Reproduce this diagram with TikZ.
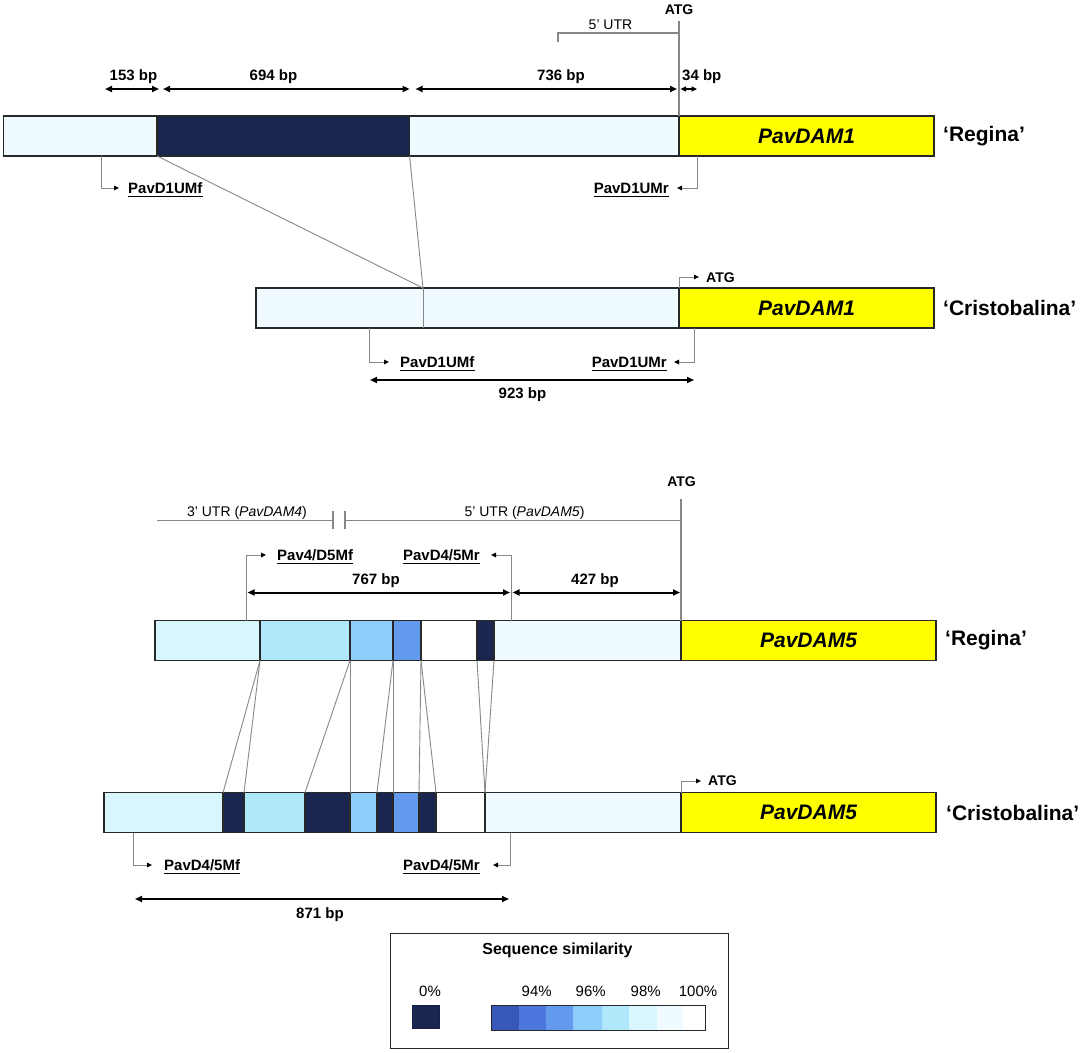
\documentclass[tikz,border=0pt]{standalone}
\usepackage{fontspec}
\setmainfont{Liberation Sans}
\usetikzlibrary{arrows.meta,calc}
\definecolor{navy}{RGB}{26,37,80}
\definecolor{cA}{RGB}{56,88,184}
\definecolor{cB}{RGB}{76,120,222}
\definecolor{cC}{RGB}{100,154,238}
\definecolor{cD}{RGB}{142,204,250}
\definecolor{cE}{RGB}{176,232,251}
\definecolor{cF}{RGB}{216,247,253}
\definecolor{cG}{RGB}{240,251,255}
\definecolor{gene}{RGB}{255,255,0}
\definecolor{bord}{RGB}{40,40,40}
\definecolor{conn}{RGB}{135,135,135}
\tikzset{
  seg/.style={draw=bord, line width=1.1pt, inner sep=0pt, outer sep=0pt, anchor=north west, minimum height=40pt},
  legseg/.style={inner sep=0pt, outer sep=0pt, anchor=north west, minimum height=25.7pt},
  dim/.style={line width=2pt, {Triangle[length=7pt,width=6pt]}-{Triangle[length=7pt,width=6pt]}},
  dimsmall/.style={line width=1.6pt, {Triangle[length=5.5pt,width=5pt]}-{Triangle[length=5.5pt,width=5pt]}},
  primer/.style={draw=conn, line width=1pt, -{Triangle[length=5pt,width=4.5pt,color=black]}},
  connline/.style={draw=conn, line width=0.9pt},
  utrline/.style={draw=conn, line width=1.1pt},
  bplab/.style={font=\fontsize{15}{18}\selectfont\bfseries, inner sep=0pt, anchor=base},
  primlab/.style={font=\fontsize{15}{18}\selectfont\bfseries, inner sep=0pt},
  ulin/.style={line width=1.2pt},
  gname/.style={font=\fontsize{21}{25}\selectfont\bfseries\itshape, inner sep=0pt},
  cult/.style={font=\fontsize{21}{25}\selectfont\bfseries, inner sep=0pt, anchor=west},
  atglab/.style={font=\fontsize{14}{16}\selectfont\bfseries, inner sep=0pt},
  utrlab/.style={font=\fontsize{14}{16}\selectfont, inner sep=0pt, anchor=base},
  pctlab/.style={font=\fontsize{15}{18}\selectfont, inner sep=0pt, anchor=base}
}
\newcommand\mkseg[5]{\node[seg, fill=#5, minimum width={(#3-#2)*1pt}] (#1) at (#2,#4) {};}
\newcommand\mkleg[4]{\node[legseg, fill=#4, minimum width={(#3-#2)*1pt}] (#1) at (#2,1005) {};}
\newcommand\ulabel[1]{\draw[ulin] ([yshift=-2.6pt]#1.base west) -- ([yshift=-2.6pt]#1.base east);}
\begin{document}
\begin{tikzpicture}[x=1pt,y=-1pt]
\useasboundingbox (0,0) rectangle (1084,1052);
\fill[white] (0,0) rectangle (1084,1052);

% ================= TOP: PavDAM1 =================
% 'Regina'
\mkseg{ra}{3.3}{157}{116}{cG}
\mkseg{rb}{157}{409.6}{116}{navy}
\mkseg{rc}{409.6}{679}{116}{cG}
\mkseg{rd}{679}{934}{116}{gene}
\node[gname] (g1) at (rd.center) {PavDAM1};
\node[cult] (cr1) at (943,136) {‘Regina’};

% ATG and 5' UTR
\node[atglab, anchor=base] (atg1) at (679,14.5) {ATG};
\coordinate (atg1l) at (679,21);
\draw[utrline] (atg1l) -- (rd.north west);
\coordinate (u5a) at (558,42);
\coordinate (u5b) at (558,33);
\coordinate (u5c) at (679,33);
\draw[utrline] (u5a) -- (u5b) -- (u5c);
\node[utrlab] (u5t) at (610.5,29) {5' UTR};

% dimensions
\coordinate (d1a) at (105,89);   \coordinate (d1b) at (159,89);
\coordinate (d2a) at (163,89);   \coordinate (d2b) at (409.6,89);
\coordinate (d3a) at (415.5,89); \coordinate (d3b) at (677,89);
\coordinate (d4a) at (680.5,89); \coordinate (d4b) at (697,89);
\draw[dim] (d1a) -- (d1b);
\draw[dim] (d2a) -- (d2b);
\draw[dim] (d3a) -- (d3b);
\draw[dimsmall] (d4a) -- (d4b);
\node[bplab] (b153) at (133.5,80.5) {153 bp};
\node[bplab] (b694) at (273.5,80.5) {694 bp};
\node[bplab] (b736) at (561,80.5) {736 bp};
\node[bplab, anchor=base west] (b34) at (682,80.5) {34 bp};

% primers Regina
\coordinate (p1s) at (101.7,156); \coordinate (p1e) at (119,188);
\coordinate (p2s) at (697,156);   \coordinate (p2e) at (677,188);
\draw[primer] (p1s) |- (p1e);
\draw[primer] (p2s) |- (p2e);
\node[primlab, anchor=base west] (L1) at (128,193.5) {PavD1UMf};
\node[primlab, anchor=base east] (L2) at (669,193.5) {PavD1UMr};
\ulabel{L1}\ulabel{L2}

% 'Cristobalina'
\mkseg{ca}{256}{679}{288}{cG}
\mkseg{cb}{679}{934}{288}{gene}
\node[gname] (g2) at (cb.center) {PavDAM1};
\node[cult] (cc1) at (943,308) {‘Cristobalina’};
\coordinate (cj) at (423,288);
\coordinate (cjb) at (423,328);
\draw[connline] (ra.south east) -- (cj);
\draw[connline] (rb.south east) -- (cj);
\draw[connline] (cj) -- (cjb);

% ATG arrow
\coordinate (a1e) at (699,277);
\draw[primer] (cb.north west) |- (a1e);
\node[atglab, anchor=base west] (atg2) at (706,282) {ATG};

% primers Cristobalina
\coordinate (p3s) at (369,328); \coordinate (p3e) at (389,362);
\coordinate (p4s) at (694,328); \coordinate (p4e) at (674,362);
\draw[primer] (p3s) |- (p3e);
\draw[primer] (p4s) |- (p4e);
\node[primlab, anchor=base west] (L3) at (400,367.5) {PavD1UMf};
\node[primlab, anchor=base east] (L4) at (667,367.5) {PavD1UMr};
\ulabel{L3}\ulabel{L4}
\coordinate (d5a) at (370,380); \coordinate (d5b) at (694,380);
\draw[dim] (d5a) -- (d5b);
\node[bplab] (b923) at (522.5,398.5) {923 bp};

% ================= BOTTOM: PavDAM5 =================
\node[atglab, anchor=base] (atg3) at (681.5,486.7) {ATG};
\coordinate (atg3l) at (681,499);
\coordinate (u3a) at (157,520.7); \coordinate (u3b) at (333,520.7);
\coordinate (u3c) at (345,520.7); \coordinate (u3d) at (681,520.7);
\coordinate (t1a) at (333,511); \coordinate (t1b) at (333,529);
\coordinate (t2a) at (345,511); \coordinate (t2b) at (345,529);
\draw[utrline] (u3a) -- (u3b);
\draw[utrline] (u3c) -- (u3d);
\draw[utrline] (t1a) -- (t1b);
\draw[utrline] (t2a) -- (t2b);
\node[utrlab] (u3t) at (247,516) {3' UTR (\textit{PavDAM4})};
\node[utrlab] (u5t2) at (524.5,516) {5' UTR (\textit{PavDAM5})};

% 'Regina' bar
\mkseg{s1}{155}{260}{620.5}{cF}
\mkseg{s2}{260}{350}{620.5}{cE}
\mkseg{s3}{350}{393}{620.5}{cD}
\mkseg{s4}{393}{421}{620.5}{cC}
\mkseg{s5}{421}{477}{620.5}{white}
\mkseg{s6}{477}{494}{620.5}{navy}
\mkseg{s7}{494}{681}{620.5}{cG}
\mkseg{s8}{681}{936}{620.5}{gene}
\draw[utrline] (atg3l) -- (s8.north west);
\node[gname] (g3) at (s8.center) {PavDAM5};
\node[cult] (cr2) at (945,640.5) {‘Regina’};

% primers and dimensions above
\coordinate (p5s) at (246,620.5); \coordinate (p5e) at (266,555);
\coordinate (p6s) at (511,620.5); \coordinate (p6e) at (491,555);
\draw[primer] (p5s) |- (p5e);
\draw[primer] (p6s) |- (p6e);
\node[primlab, anchor=base west] (L5) at (277,560.5) {Pav4/D5Mf};
\node[primlab, anchor=base east] (L6) at (480,560.5) {PavD4/5Mr};
\ulabel{L5}\ulabel{L6}
\coordinate (d6a) at (247.5,592.5); \coordinate (d6b) at (510,592.5);
\coordinate (d7a) at (512.5,592.5); \coordinate (d7b) at (680,592.5);
\draw[dim] (d6a) -- (d6b);
\draw[dim] (d7a) -- (d7b);
\node[bplab] (b767) at (376,584) {767 bp};
\node[bplab] (b427) at (595,584) {427 bp};

% 'Cristobalina' bar
\mkseg{t1}{104}{223}{792.7}{cF}
\mkseg{t2}{223}{244}{792.7}{navy}
\mkseg{t3}{244}{305}{792.7}{cE}
\mkseg{t4}{305}{350}{792.7}{navy}
\mkseg{t5}{350}{377}{792.7}{cD}
\mkseg{t6}{377}{393}{792.7}{navy}
\mkseg{t7}{393}{419}{792.7}{cC}
\mkseg{t8}{419}{436}{792.7}{navy}
\mkseg{t9}{436}{485}{792.7}{white}
\mkseg{t10}{485}{681}{792.7}{cG}
\mkseg{t11}{681}{936}{792.7}{gene}
\node[gname] (g4) at (t11.center) {PavDAM5};
\node[cult] (cc2) at (946,812.7) {‘Cristobalina’};

% alignment connectors
\draw[connline] (s1.south east) -- (t1.north east);
\draw[connline] (s1.south east) -- (t2.north east);
\draw[connline] (s2.south east) -- (t3.north east);
\draw[connline] (s2.south east) -- (t4.north east);
\draw[connline] (s3.south east) -- (t5.north east);
\draw[connline] (s3.south east) -- (t6.north east);
\draw[connline] (s4.south east) -- (t7.north east);
\draw[connline] (s4.south east) -- (t8.north east);
\draw[connline] (s5.south east) -- (t9.north east);
\draw[connline] (s6.south east) -- (t9.north east);

% ATG arrow
\coordinate (a2e) at (701,781);
\draw[primer] (t11.north west) |- (a2e);
\node[atglab, anchor=base west] (atg4) at (708,785.5) {ATG};

% primers below
\coordinate (p7s) at (133,832.7); \coordinate (p7e) at (152,865);
\coordinate (p8s) at (510,832.7); \coordinate (p8e) at (493,865);
\draw[primer] (p7s) |- (p7e);
\draw[primer] (p8s) |- (p8e);
\node[primlab, anchor=base west] (L7) at (164,870.5) {PavD4/5Mf};
\node[primlab, anchor=base east] (L8) at (480,870.5) {PavD4/5Mr};
\ulabel{L7}\ulabel{L8}
\coordinate (d8a) at (135,899); \coordinate (d8b) at (509,899);
\draw[dim] (d8a) -- (d8b);
\node[bplab] (b871) at (320,918) {871 bp};

% ================= LEGEND =================
\node[draw=bord, line width=1pt, inner sep=0pt, outer sep=0pt, minimum width=338pt, minimum height=115pt, anchor=north west] (leg) at (390,933) {};
\node[font=\fontsize{16}{19}\selectfont\bfseries, inner sep=0pt, anchor=base] (legt) at (557.5,954) {Sequence similarity};
\node[pctlab] (z0) at (430,996) {0\%};
\node[inner sep=0pt, outer sep=0pt, anchor=north west, fill=navy, draw=navy!85!black, line width=0.8pt, minimum width=27pt, minimum height=22.6pt] (sq) at (412,1005.7) {};
\mkleg{l1}{491.7}{519}{cA}
\mkleg{l2}{519}{546}{cB}
\mkleg{l3}{546}{573}{cC}
\mkleg{l4}{573}{601.7}{cD}
\mkleg{l5}{601.7}{629}{cE}
\mkleg{l6}{629}{657}{cF}
\mkleg{l7}{657}{682.7}{cG}
\mkleg{l8}{682.7}{705.7}{white}
\draw[bord, line width=1pt] (l1.north west) rectangle (l8.south east);
\node[pctlab] (q94) at (536.7,996) {94\%};
\node[pctlab] (q96) at (590.7,996) {96\%};
\node[pctlab] (q98) at (645.7,996) {98\%};
\node[pctlab] (q100) at (698,996) {100\%};
\end{tikzpicture}
\end{document}
